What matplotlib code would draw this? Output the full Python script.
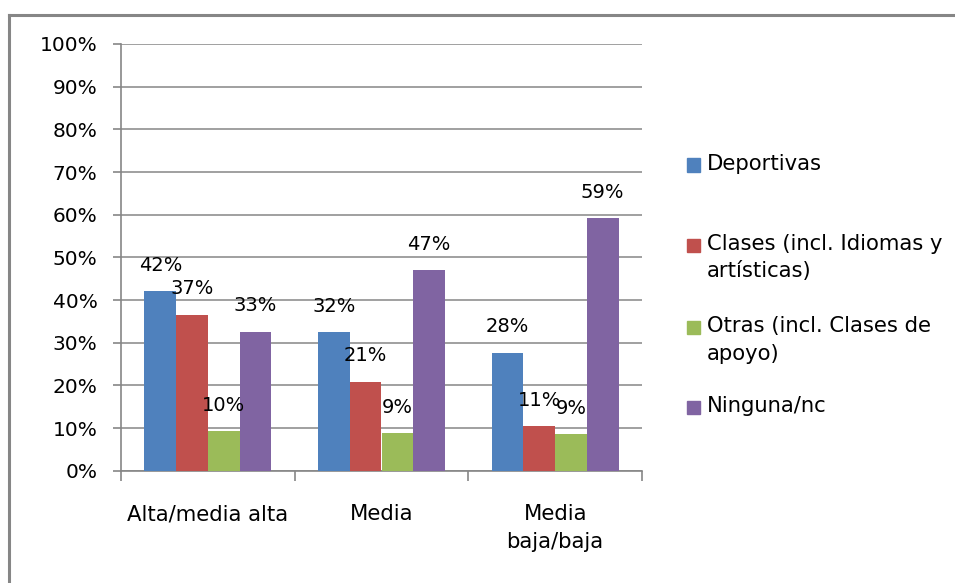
import matplotlib
matplotlib.use("Agg")
import matplotlib.pyplot as plt
from matplotlib.patches import Rectangle
from matplotlib.lines import Line2D
import numpy as np

categories = ["Alta/media alta", "Media", "Media\nbaja/baja"]
series_names = ["Deportivas", "Clases (incl. Idiomas y\nartísticas)",
                "Otras (incl. Clases de\napoyo)", "Ninguna/nc"]
deportivas = [42.1, 32.4, 27.7]
clases = [36.6, 20.8, 10.4]
otras = [9.3, 8.8, 8.6]
ninguna = [32.6, 47.0, 59.2]
label_text = [["42%", "32%", "28%"],
              ["37%", "21%", "11%"],
              ["10%", "9%", "9%"],
              ["33%", "47%", "59%"]]
yticks = [0, 10, 20, 30, 40, 50, 60, 70, 80, 90, 100]

colors = ["#4F81BD", "#C0504D", "#9BBB59", "#8064A2"]
values = [deportivas, clases, otras, ninguna]

plt.rcParams['font.family'] = ['DejaVu Sans']
W, H = 955, 583
fig = plt.figure(figsize=(W/100, H/100), dpi=100)

# outer chart border (only top/left visible)
fig.add_artist(Line2D([8.5/W, 8.5/W], [0, 1 - 14.5/H], color="#868686", lw=2.2,
                      transform=fig.transFigure))
fig.add_artist(Line2D([8.5/W, 1], [1 - 14.5/H, 1 - 14.5/H], color="#868686", lw=2.2,
                      transform=fig.transFigure))

ax = fig.add_axes([121/W, 1 - 470.7/H, (642 - 121)/W, (470.7 - 44)/H])
x = np.arange(len(categories))
w = 0.1825
for i, (vals, col) in enumerate(zip(values, colors)):
    pos = x + (i - 1.5) * w
    ax.bar(pos, vals, width=w, color=col, zorder=3)
    for p, v, t in zip(pos, vals, label_text[i]):
        ax.annotate(t, (p, v), xytext=(0, 26), textcoords="offset pixels",
                    ha="center", va="center", fontsize=14, color="black", zorder=4)

ax.set_xlim(-0.5, 2.5)
ax.set_ylim(0, 100)
ax.set_yticks(yticks)
ax.set_yticklabels([f"{t}%" for t in yticks])
ax.yaxis.grid(True, color="#868686", lw=1.1, zorder=0)
for s in ["top", "right"]:
    ax.spines[s].set_visible(False)
for s in ["left", "bottom"]:
    ax.spines[s].set_color("#868686")
    ax.spines[s].set_linewidth(1.2)
ax.tick_params(axis="y", length=6, color="#868686", width=1.2, pad=11, labelsize=14.5)
ax.set_xticks(x)
ax.set_xticklabels(categories, fontsize=15.3, linespacing=1.5)
ax.set_xticks([-0.5, 0.5, 1.5, 2.5], minor=True)
ax.tick_params(axis="x", which="major", length=0, pad=24)
ax.tick_params(axis="x", which="minor", length=7, color="#868686", width=1.2)

# legend drawn manually
leg_y = [165, 245, 327, 407]
for name, col, yy in zip(series_names, colors, leg_y):
    fig.add_artist(Rectangle((687/W, 1 - (yy + 6.5)/H), 13/W, 13/H, color=col,
                             transform=fig.transFigure))
    fig.text(707/W, 1 - (yy - 11.5)/H, name, ha="left", va="top", fontsize=15.2,
             linespacing=1.5)

fig.savefig("out.png", dpi=100)
